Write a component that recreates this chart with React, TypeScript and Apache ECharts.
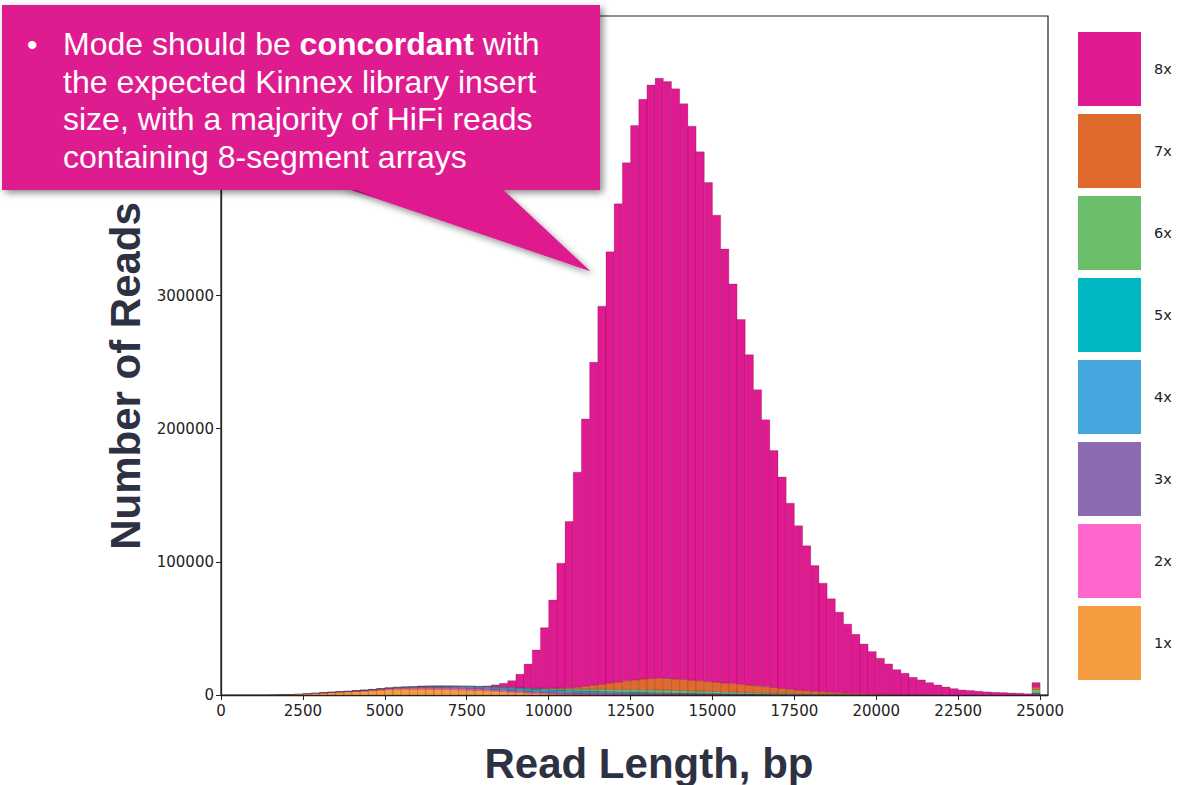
import React, { useEffect, useRef } from "react";
import * as echarts from "echarts";

// Histogram bins: 250 bp wide, starting at 0
const BIN_WIDTH = 250;
const X_MAX = 25240;
const Y_MAX = 510000;
const xTicks = [0, 2500, 5000, 7500, 10000, 12500, 15000, 17500, 20000, 22500, 25000];
const yTicks = [0, 100000, 200000, 300000, 400000, 500000];
// labels above 300000 are covered by the callout in the reference
const yTickLabels = [0, 100000, 200000, 300000];

const seriesNames = ["1x", "2x", "3x", "4x", "5x", "6x", "7x", "8x"];
const seriesColors = ["#F59C40", "#FF66CC", "#8B6CB0", "#45A6DE", "#00B8C4", "#6BBF6A", "#E06A2E", "#E01A90"];

// Read counts per 250 bp bin (bin i covers i*250 .. (i+1)*250)
const reads1x = [
  0, 0, 0, 0, 0, 0, 50, 150, 350, 650,
  950, 1250, 1550, 1850, 2150, 2400, 2650, 2950, 3300, 3750,
  4150, 4400, 4500, 4550, 4550, 4500, 4400, 4250, 4100, 3900,
  3700, 3450, 3200, 2900, 2550, 2200, 1850, 1500, 1200, 950,
  750, 600, 480, 400, 340, 300, 270, 250, 230, 220,
  210, 200, 190, 180, 170, 160, 150, 140, 130, 120,
  110, 100, 90, 80, 70, 60, 50, 45, 40, 35,
  30, 25, 20, 15, 10, 10, 5, 5, 5, 0,
  0, 0, 0, 0, 0, 0, 0, 0, 0, 0,
  0, 0, 0, 0, 0, 0, 0, 0, 0, 300,
];
const reads2x = [
  0, 0, 0, 0, 0, 0, 0, 10, 30, 50,
  80, 110, 150, 190, 240, 290, 340, 400, 470, 540,
  620, 690, 760, 820, 880, 930, 970, 1000, 1010, 1010,
  1000, 990, 970, 950, 930, 900, 870, 840, 800, 760,
  720, 680, 640, 600, 560, 530, 500, 470, 450, 430,
  410, 390, 370, 350, 330, 310, 290, 270, 250, 230,
  210, 190, 170, 150, 135, 120, 105, 90, 80, 70,
  60, 50, 40, 35, 30, 25, 20, 15, 10, 10,
  5, 0, 0, 0, 0, 0, 0, 0, 0, 0,
  0, 0, 0, 0, 0, 0, 0, 0, 0, 300,
];
const reads3x = [
  0, 0, 0, 0, 0, 0, 0, 0, 0, 0,
  20, 40, 60, 90, 120, 150, 190, 230, 270, 320,
  370, 420, 470, 520, 560, 600, 630, 650, 670, 680,
  690, 690, 690, 680, 670, 660, 640, 620, 600, 580,
  560, 540, 520, 500, 480, 460, 440, 420, 400, 380,
  360, 340, 320, 300, 280, 260, 240, 220, 200, 185,
  170, 155, 140, 125, 110, 100, 90, 80, 70, 60,
  50, 45, 40, 35, 30, 25, 20, 15, 10, 10,
  5, 0, 0, 0, 0, 0, 0, 0, 0, 0,
  0, 0, 0, 0, 0, 0, 0, 0, 0, 300,
];
const reads4x = [
  0, 0, 0, 0, 0, 0, 0, 0, 0, 0,
  0, 0, 20, 40, 60, 80, 100, 130, 160, 200,
  240, 290, 340, 400, 460, 520, 580, 640, 700, 750,
  800, 850, 890, 920, 940, 950, 950, 940, 920, 900,
  880, 860, 840, 810, 780, 750, 710, 670, 630, 590,
  550, 520, 490, 460, 430, 400, 370, 340, 310, 280,
  255, 230, 210, 190, 170, 150, 135, 120, 105, 90,
  80, 70, 60, 50, 40, 35, 30, 25, 20, 15,
  10, 10, 5, 0, 0, 0, 0, 0, 0, 0,
  0, 0, 0, 0, 0, 0, 0, 0, 0, 300,
];
const reads5x = [
  0, 0, 0, 0, 0, 0, 0, 0, 0, 0,
  0, 0, 0, 0, 0, 0, 10, 20, 30, 40,
  50, 60, 80, 100, 130, 160, 200, 240, 290, 340,
  400, 470, 550, 630, 710, 790, 860, 920, 970, 1010,
  1030, 1040, 1030, 1010, 980, 950, 910, 870, 830, 790,
  750, 710, 670, 630, 590, 550, 510, 470, 430, 400,
  370, 340, 310, 280, 250, 225, 200, 180, 160, 140,
  120, 105, 90, 80, 70, 60, 50, 40, 35, 30,
  25, 20, 15, 10, 10, 5, 0, 0, 0, 0,
  0, 0, 0, 0, 0, 0, 0, 0, 0, 400,
];
const reads6x = [
  0, 0, 0, 0, 0, 0, 0, 0, 0, 0,
  0, 0, 0, 0, 0, 0, 0, 0, 0, 0,
  0, 0, 0, 0, 10, 20, 30, 40, 60, 80,
  100, 130, 170, 220, 280, 350, 430, 520, 620, 720,
  830, 940, 1050, 1160, 1270, 1380, 1480, 1570, 1650, 1720,
  1780, 1820, 1840, 1850, 1840, 1810, 1770, 1720, 1660, 1590,
  1520, 1440, 1360, 1280, 1200, 1110, 1020, 940, 860, 780,
  700, 630, 560, 500, 440, 390, 340, 300, 260, 220,
  190, 160, 130, 110, 90, 75, 60, 50, 40, 30,
  25, 20, 15, 10, 10, 5, 5, 5, 5, 2500,
];
const reads7x = [
  0, 0, 0, 0, 0, 0, 0, 0, 0, 0,
  0, 0, 0, 0, 0, 0, 0, 0, 0, 0,
  0, 0, 0, 0, 0, 0, 0, 0, 0, 0,
  0, 0, 0, 0, 0, 0, 20, 40, 80, 150,
  300, 550, 950, 1500, 2200, 3000, 3800, 4700, 5600, 6500,
  7300, 8000, 8500, 8800, 8800, 8600, 8300, 8000, 7700, 7350,
  7000, 6650, 6300, 5950, 5600, 5150, 4700, 4200, 3600, 3100,
  2700, 2300, 2000, 1700, 1400, 1150, 950, 780, 640, 520,
  420, 340, 270, 210, 170, 130, 100, 80, 60, 45,
  35, 25, 20, 15, 10, 10, 5, 5, 5, 2000,
];
const reads8x = [
  0, 0, 0, 0, 0, 0, 0, 0, 0, 0,
  0, 0, 0, 0, 0, 0, 0, 0, 0, 0,
  0, 0, 0, 0, 0, 0, 0, 0, 0, 0,
  0, 0, 300, 1300, 2700, 4900, 10000, 17900, 28600, 45500,
  66300, 93800, 124800, 161400, 200700, 242500, 283900, 323900, 359100, 389200,
  416400, 435400, 445700, 450600, 448300, 443200, 432500, 416100, 397300, 374800,
  350800, 325900, 300200, 273900, 248100, 222400, 200500, 178000, 158800, 139800,
  123400, 108800, 94400, 81600, 70200, 60500, 51800, 44400, 37300, 31800,
  26900, 22800, 18600, 16000, 13000, 11100, 9100, 7400, 5900, 4700,
  3700, 3300, 2800, 2300, 2000, 1800, 1500, 1300, 1000, 3200,
];

const layers = [reads1x, reads2x, reads3x, reads4x, reads5x, reads6x, reads7x, reads8x];

const calloutLines = [
  "{n|Mode should be }{b|concordant}{n| with}",
  "{n|the expected Kinnex library insert}",
  "{n|size, with a majority of HiFi reads}",
  "{n|containing 8-segment arrays}",
];

const CALLOUT = "#DF1A8F";
const TITLE_COLOR = "#2D3142";
const SANS = "Liberation Sans, Arial, sans-serif";

export default function App() {
  const ref = useRef<HTMLDivElement>(null);

  useEffect(() => {
    if (!ref.current) return;
    const chart = echarts.init(ref.current, null, { renderer: "svg" });

    const cum = new Array(reads8x.length).fill(0);
    const series = layers.map((vals, k) => {
      const data: number[][] = [];
      vals.forEach((v, i) => {
        if (v > 0) data.push([i * BIN_WIDTH, (i + 1) * BIN_WIDTH, cum[i], cum[i] + v]);
        cum[i] += v;
      });
      const color = seriesColors[k];
      return {
        type: "custom",
        name: seriesNames[k],
        data,
        clip: true,
        silent: true,
        encode: { x: [0, 1], y: [2, 3] },
        itemStyle: { color },
        renderItem: (params: any, api: any) => {
          const a = api.coord([api.value(0), api.value(3)]);
          const b = api.coord([api.value(1), api.value(2)]);
          return {
            type: "rect",
            shape: { x: a[0], y: a[1], width: b[0] - a[0], height: b[1] - a[1] },
            style: { fill: color, stroke: "rgba(70,0,40,0.35)", lineWidth: 0.6 },
          };
        },
      };
    });

    const calloutText = calloutLines.map((line, i) => ({
      type: "text",
      x: 63,
      y: 44 + i * 37.6,
      z: 102,
      style: {
        text: line,
        align: "left",
        verticalAlign: "middle",
        rich: {
          n: { fontSize: 32, fontFamily: SANS, fill: "#ffffff" },
          b: { fontSize: 32, fontWeight: "bold", fontFamily: SANS, fill: "#ffffff" },
        },
      },
    }));

    const shadow = { shadowBlur: 7, shadowColor: "rgba(0,0,0,0.45)", shadowOffsetX: 3, shadowOffsetY: 3 };

    chart.setOption({
      animation: false,
      grid: {
        left: 221,
        right: 130,
        top: 16,
        bottom: 90,
        show: true,
        borderColor: "#222",
        borderWidth: 1.2,
        backgroundColor: "transparent",
      },
      legend: {
        orient: "vertical",
        left: 1078,
        top: 32,
        padding: 0,
        itemWidth: 63,
        itemHeight: 74,
        itemGap: 8,
        icon: "rect",
        selectedMode: false,
        data: [...seriesNames].reverse(),
        textStyle: { fontSize: 14.5, color: "#222", fontFamily: "DejaVu Sans", padding: [0, 0, 0, 8] },
      },
      xAxis: {
        type: "value",
        min: 0,
        max: X_MAX,
        interval: 2500,
        splitLine: { show: false },
        axisLine: { show: true, lineStyle: { color: "#222", width: 1.3 } },
        axisTick: { show: true, length: 5, customValues: xTicks, lineStyle: { color: "#222" } },
        axisLabel: {
          customValues: xTicks,
          margin: 8,
          fontSize: 15,
          color: "#222",
          fontFamily: "DejaVu Sans",
          formatter: (v: number) => String(v),
        },
      },
      yAxis: {
        type: "value",
        min: 0,
        max: Y_MAX,
        interval: 100000,
        splitLine: { show: false },
        axisLine: { show: true, lineStyle: { color: "#222", width: 1.3 } },
        axisTick: { show: true, length: 5, customValues: yTicks, lineStyle: { color: "#222" } },
        axisLabel: {
          customValues: yTickLabels,
          margin: 7,
          fontSize: 15,
          color: "#222",
          fontFamily: "DejaVu Sans",
          formatter: (v: number) => String(v),
        },
      },
      series,
      graphic: [
        {
          type: "text",
          x: 125,
          y: 376,
          rotation: Math.PI / 2,
          z: 50,
          style: {
            text: "Number of Reads",
            fontSize: 42,
            fontWeight: "bold",
            fontFamily: SANS,
            fill: TITLE_COLOR,
            align: "center",
            verticalAlign: "middle",
          },
        },
        {
          type: "text",
          x: 649,
          y: 763,
          z: 50,
          style: {
            text: "Read Length, bp",
            fontSize: 42,
            fontWeight: "bold",
            fontFamily: SANS,
            fill: TITLE_COLOR,
            align: "center",
            verticalAlign: "middle",
          },
        },
        {
          type: "polygon",
          z: 100,
          shape: { points: [[339, 186], [497, 186], [590, 271]] },
          style: { fill: CALLOUT, ...shadow },
        },
        {
          type: "rect",
          z: 100,
          shape: { x: 2, y: 5, width: 598, height: 185 },
          style: { fill: CALLOUT, ...shadow },
        },
        {
          type: "polygon",
          z: 101,
          shape: { points: [[339, 184], [497, 184], [590, 271]] },
          style: { fill: CALLOUT },
        },
        {
          type: "text",
          x: 27,
          y: 44,
          z: 102,
          style: {
            text: "•",
            fontSize: 30,
            fontFamily: SANS,
            fill: "#ffffff",
            align: "left",
            verticalAlign: "middle",
          },
        },
        ...calloutText,
      ],
    });

    return () => chart.dispose();
  }, []);

  return <div ref={ref} style={{ position: "absolute", left: 0, top: 0, width: 1178, height: 785 }} />;
}
